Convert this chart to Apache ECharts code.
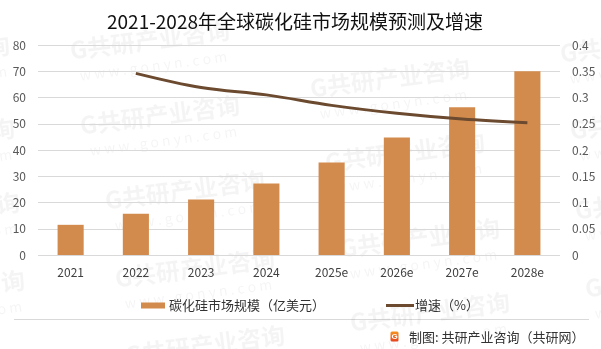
<!DOCTYPE html>
<html>
<head>
<meta charset="utf-8">
<script src="https://cdn.jsdelivr.net/npm/echarts@6/dist/echarts.min.js"></script>
<style>
html,body{margin:0;padding:0;background:#fff;}
#chart{width:601px;height:349px;}
</style>
</head>
<body>
<div id="chart"></div>
<script>
var categories = ['2021','2022','2023','2024','2025e','2026e','2027e','2028e'];
var marketSize = [11.5, 15.7, 21.1, 27.2, 35.2, 44.8, 56.3, 70.0];
var growthRate = [null, 0.346, 0.319, 0.305, 0.285, 0.270, 0.259, 0.252];
var leftTicks = [0, 80, 10];
var rightTicks = [0, 0.4, 0.05];
var barName = '碳化硅市场规模（亿美元）';
var lineName = '增速（%）';
var titleText = '2021-2028年全球碳化硅市场规模预测及增速';
var sourceText = '制图: 共研产业咨询（共研网）';
var wmMain = 'G共研产业咨询';
var wmSub = 'w w w . g o n y n . c o m';

var FONT = '"Noto Sans CJK SC","Microsoft YaHei",sans-serif';

var wmPos = [
  [150,40],[160,115],[185,190],[195,268],[205,345],
  [390,78],[405,152],[420,238],[430,312],
  [640,43],[650,120],[655,200],[665,278],
  [-70,55],[-65,138],[-60,212],[-55,290]
];
var wmGroups = wmPos.map(function(p){
  return {
    type:'group', x:p[0], y:p[1], rotation:0.13, z:100, silent:true,
    children:[
      {type:'text', x:0, y:0, style:{text:wmMain, fill:'rgba(0,0,0,0.042)', font:'bold 24px '+FONT, textAlign:'center', textVerticalAlign:'middle', align:'center', verticalAlign:'middle'}},
      {type:'text', x:0, y:26, style:{text:wmSub, fill:'rgba(0,0,0,0.042)', font:'14px '+FONT, textAlign:'center', textVerticalAlign:'middle', align:'center', verticalAlign:'middle'}}
    ]
  };
});

var chart = echarts.init(document.getElementById('chart'), null, {renderer:'canvas'});
chart.setOption({
  backgroundColor:'#fff',
  animation:false,
  title:{
    text:titleText, left:290, top:7, textAlign:'center',
    textStyle:{fontFamily:FONT, fontSize:19, fontWeight:'normal', color:'#111'}
  },
  legend:[
    {data:[barName], left:136, top:294, itemWidth:24, itemHeight:6, icon:'rect', itemGap:20,
     textStyle:{fontFamily:FONT, fontSize:13, color:'#333', padding:[0,0,0,-1]}},
    {data:[lineName], left:381, top:294, itemWidth:28, itemHeight:3, icon:'rect',
     textStyle:{fontFamily:FONT, fontSize:13, color:'#333', padding:[0,0,0,-4]}}
  ],
  grid:{left:38, right:41, top:45, bottom:94},
  xAxis:{
    type:'category', data:categories,
    axisLine:{show:false}, axisTick:{show:false},
    axisLabel:{margin:11, fontFamily:FONT, fontSize:12, color:'#404040'}
  },
  yAxis:[
    {type:'value', min:leftTicks[0], max:leftTicks[1], interval:leftTicks[2],
     axisLine:{show:false}, axisTick:{show:false},
     axisLabel:{margin:12, fontFamily:FONT, fontSize:12, color:'#595959'},
     splitLine:{lineStyle:{color:'#d9d9d9', width:1}}},
    {type:'value', min:rightTicks[0], max:rightTicks[1], interval:rightTicks[2],
     axisLine:{show:false}, axisTick:{show:false},
     axisLabel:{margin:12, fontFamily:FONT, fontSize:12, color:'#595959'},
     splitLine:{show:false}}
  ],
  series:[
    {name:barName, type:'bar', data:marketSize, barWidth:'40%', yAxisIndex:0,
     itemStyle:{color:'#d38b4d'}},
    {name:lineName, type:'line', data:growthRate, yAxisIndex:1, smooth:0.35,
     showSymbol:false, symbol:'none', connectNulls:false,
     lineStyle:{color:'#6b4a2f', width:3}, itemStyle:{color:'#6b4a2f'}}
  ],
  graphic:[
    {type:'line', shape:{x1:14, y1:319.5, x2:589, y2:319.5}, style:{stroke:'#d9d9d9', lineWidth:1}},
    {type:'rect', shape:{x:390.5, y:331.5, width:8, height:10, r:1.5},
     style:{fill:new echarts.graphic.LinearGradient(0,0,0,1,[{offset:0,color:'#f7941d'},{offset:1,color:'#e8431f'}])}},
    {type:'text', x:394.5, y:336.8, style:{text:'G', fill:'#fff', font:'bold 8px sans-serif', textAlign:'center', textVerticalAlign:'middle', align:'center', verticalAlign:'middle'}},
    {type:'text', x:409, y:337, style:{text:sourceText, fill:'#333', font:'13px '+FONT, textVerticalAlign:'middle', verticalAlign:'middle'}}
  ].concat(wmGroups)
});
</script>
</body>
</html>
